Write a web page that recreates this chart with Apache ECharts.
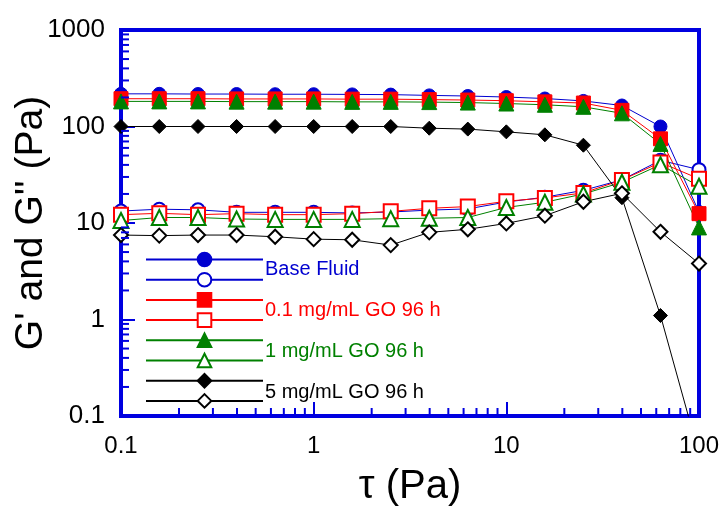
<!DOCTYPE html>
<html>
<head>
<meta charset="utf-8">
<script src="https://cdn.jsdelivr.net/npm/echarts@6/dist/echarts.min.js"></script>
<style>
  html, body { margin: 0; padding: 0; background: #fff; }
  #chart { width: 720px; height: 507px; }
</style>
</head>
<body>
<div id="chart"></div>
<script>
// Shear stress (Pa)
const stress = [0.1, 0.158, 0.251, 0.398, 0.631, 1, 1.585, 2.512, 3.981, 6.31, 10, 15.85, 25.12, 39.81, 63.1, 100];

// Storage modulus G' (Pa)
const baseG1 = [218, 218, 217, 217, 216, 216, 215, 214, 210, 207, 202, 195, 184, 165, 100, 13];
const go01G1 = [194, 194, 194, 193, 193, 193, 192, 192, 190, 188, 185, 180, 175, 147, 74.5, 12.5];
const go1G1  = [182, 182, 182, 181, 181, 181, 180, 180, 179, 177, 173, 168, 160, 137, 66, 9];
const go5G1  = [100, 100, 100, 100, 100, 100, 100, 100, 96, 94, 88, 82, 64, 18.3, 1.1, 0.04];

// Loss modulus G'' (Pa)
const baseG2 = [13.3, 13.9, 13.7, 12.9, 12.9, 12.9, 12.7, 13.0, 13.6, 14.0, 16.5, 18.5, 21.8, 28, 44.6, 35.7];
const go01G2 = [12.2, 12.6, 12.2, 12.5, 12.2, 12.2, 12.5, 13.2, 14.2, 14.8, 16.8, 18.2, 20.5, 27.9, 42.4, 28.7];
const go1G2  = [10.6, 11.4, 11.4, 11.0, 10.9, 10.9, 10.9, 11.1, 11.2, 11.4, 14.5, 16.4, 20.0, 26.4, 40.2, 24.0];
const go5G2  = [7.5, 7.4, 7.5, 7.5, 7.2, 6.8, 6.7, 5.9, 8.0, 8.6, 9.9, 11.9, 16.6, 20.3, 8.1, 3.8];

// Legend labels (one per sample)
const sampleNames = ['Base Fluid', '0.1 mg/mL GO 96 h', '1 mg/mL GO 96 h', '5 mg/mL GO 96 h'];

// Axis tick values
const xTicks = [0.1, 1, 10, 100];
const yTicks = [0.1, 1, 10, 100, 1000];
const xMinorTicks = [0.2, 0.3, 0.4, 0.5, 0.6, 0.7, 0.8, 0.9, 2, 3, 4, 5, 6, 7, 8, 9, 20, 30, 40, 50, 60, 70, 80, 90];
const yMinorTicks = [0.2, 0.3, 0.4, 0.5, 0.6, 0.7, 0.8, 0.9, 2, 3, 4, 5, 6, 7, 8, 9, 20, 30, 40, 50, 60, 70, 80, 90, 200, 300, 400, 500, 600, 700, 800, 900];

const BLUE = '#0000d0';
const AXIS = '#0000e0';
const RED = '#ff0000';
const GREEN = '#008000';
const BLACK = '#000000';
const FONT = "'Liberation Sans', Arial, sans-serif";

const pairs = (ys) => stress.map((x, i) => [x, ys[i]]);

function lineSeries(name, ys, color, symbol, size) {
  return {
    type: 'line',
    name: name,
    data: pairs(ys),
    symbol: symbol,
    symbolSize: size,
    showAllSymbol: true,
    clip: true,
    color: color,
    lineStyle: { color: color, width: 1 },
    itemStyle: { color: color, borderColor: color, borderWidth: 1 },
    emphasis: { disabled: true },
    animation: false
  };
}

const seriesDefs = [
  lineSeries('base-G1', baseG1, BLUE, 'circle', 13),
  lineSeries('base-G2', baseG2, BLUE, 'emptyCircle', 13),
  lineSeries('go01-G1', go01G1, RED, 'rect', 14),
  lineSeries('go01-G2', go01G2, RED, 'emptyRect', 14),
  lineSeries('go1-G1', go1G1, GREEN, 'triangle', 15),
  lineSeries('go1-G2', go1G2, GREEN, 'emptyTriangle', 15),
  lineSeries('go5-G1', go5G1, BLACK, 'diamond', 14),
  lineSeries('go5-G2', go5G2, BLACK, 'emptyDiamond', 14)
];

// Minor ticks of the log axes, drawn inward from the bottom and left edges
const xMinorSeries = {
  type: 'custom',
  name: 'xMinor',
  silent: true,
  z: 5,
  clip: false,
  data: xMinorTicks.map(v => [v, 0.1]),
  renderItem: (params, api) => {
    const p = api.coord([api.value(0), 0.1]);
    return { type: 'line', shape: { x1: p[0], y1: p[1], x2: p[0], y2: p[1] - 8 }, style: { stroke: AXIS, lineWidth: 2 } };
  },
  animation: false
};
const yMinorSeries = {
  type: 'custom',
  name: 'yMinor',
  silent: true,
  z: 5,
  clip: false,
  data: yMinorTicks.map(v => [0.1, v]),
  renderItem: (params, api) => {
    const p = api.coord([0.1, api.value(1)]);
    return { type: 'line', shape: { x1: p[0], y1: p[1], x2: p[0] + 8, y2: p[1] }, style: { stroke: AXIS, lineWidth: 2 } };
  },
  animation: false
};

const fmt = v => String(+(+v).toPrecision(6));

const chart = echarts.init(document.getElementById('chart'), null, { renderer: 'canvas' });

const legendColors = [BLUE, RED, GREEN, BLACK];
const legendTexts = sampleNames.map((t, i) => ({
  type: 'text',
  left: 265,
  top: 259 + i * 41.2,
  style: { text: t, fill: legendColors[i], font: '20px ' + FONT },
  silent: true
}));

chart.setOption({
  animation: false,
  backgroundColor: '#ffffff',
  grid: {
    left: 121, right: 21, top: 30, bottom: 91,
    containLabel: false,
    outerBoundsMode: 'none',
    show: true, borderColor: AXIS, borderWidth: 4, backgroundColor: 'transparent'
  },
  xAxis: {
    type: 'log', logBase: 10, min: 0.1, max: 100,
    name: 'τ (Pa)', nameLocation: 'middle', nameGap: 51,
    nameMoveOverlap: false,
    nameTextStyle: { fontFamily: FONT, fontSize: 40, color: BLACK },
    axisLine: { show: true, lineStyle: { color: AXIS, width: 4 } },
    axisTick: { show: true, inside: true, length: 14, lineStyle: { color: AXIS, width: 2 } },
    axisLabel: { formatter: fmt, fontFamily: FONT, fontSize: 24, color: BLACK, margin: 18 },
    splitLine: { show: false },
    minorTick: { show: false }
  },
  yAxis: {
    type: 'log', logBase: 10, min: 0.1, max: 1000,
    name: "G' and G'' (Pa)", nameLocation: 'middle', nameGap: 70,
    nameMoveOverlap: false,
    nameTextStyle: { fontFamily: FONT, fontSize: 39, color: BLACK },
    axisLine: { show: true, lineStyle: { color: AXIS, width: 4 } },
    axisTick: { show: true, inside: true, length: 14, lineStyle: { color: AXIS, width: 2 } },
    axisLabel: { formatter: fmt, fontFamily: FONT, fontSize: 26, color: BLACK, margin: 16 },
    splitLine: { show: false },
    minorTick: { show: false }
  },
  legend: {
    orient: 'vertical',
    left: 145,
    top: 251,
    padding: 0,
    itemWidth: 117,
    itemHeight: 17,
    itemGap: 3.9,
    selectedMode: false,
    formatter: () => '',
    textStyle: { fontSize: 1 },
    data: seriesDefs.map(s => s.name)
  },
  graphic: legendTexts,
  series: [...seriesDefs, xMinorSeries, yMinorSeries]
});
</script>
</body>
</html>
